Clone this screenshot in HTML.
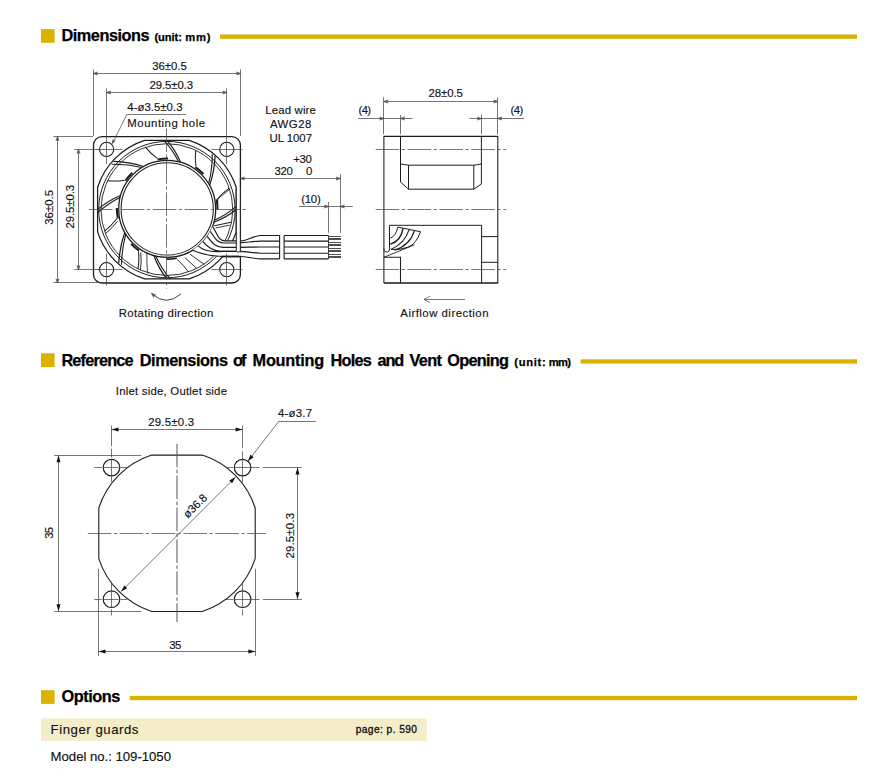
<!DOCTYPE html>
<html><head><meta charset="utf-8"><title>Dimensions</title>
<style>
html,body{margin:0;padding:0;background:#fff;}
body{width:877px;height:781px;overflow:hidden;font-family:"Liberation Sans",sans-serif;}
svg{display:block;font-family:"Liberation Sans",sans-serif;}
svg text{white-space:pre;}
</style></head><body>
<svg width="877" height="781" viewBox="0 0 877 781">
<rect width="877" height="781" fill="#fff"/>
<rect x="41" y="29.1" width="13.6" height="13.7" fill="#d9b300"/>
<text x="61.50" y="40.80" font-size="16.3" font-weight="bold" text-anchor="start" fill="#000" stroke="#000" stroke-width="0.25" textLength="88.1" lengthAdjust="spacing">Dimensions</text>
<text x="154.40" y="40.80" font-size="11.2" font-weight="bold" text-anchor="start" fill="#000" stroke="#000" stroke-width="0.25" textLength="27.5" lengthAdjust="spacing">(unit:</text>
<text x="185.20" y="40.80" font-size="11.2" font-weight="bold" text-anchor="start" fill="#000" stroke="#000" stroke-width="0.25" textLength="25.4" lengthAdjust="spacing">mm)</text>
<rect x="220.0" y="34.5" width="637.0" height="4.3" fill="#d9b300"/>
<rect x="41" y="353.3" width="13.6" height="13.7" fill="#d9b300"/>
<text x="61.40" y="365.60" font-size="16.3" font-weight="bold" text-anchor="start" fill="#000" stroke="#000" stroke-width="0.25" textLength="72.2" lengthAdjust="spacing">Reference</text>
<text x="139.80" y="365.60" font-size="16.3" font-weight="bold" text-anchor="start" fill="#000" stroke="#000" stroke-width="0.25" textLength="88.2" lengthAdjust="spacing">Dimensions</text>
<text x="232.90" y="365.60" font-size="16.3" font-weight="bold" text-anchor="start" fill="#000" stroke="#000" stroke-width="0.25" textLength="13.6" lengthAdjust="spacing">of</text>
<text x="252.60" y="365.60" font-size="16.3" font-weight="bold" text-anchor="start" fill="#000" stroke="#000" stroke-width="0.25" textLength="71.5" lengthAdjust="spacing">Mounting</text>
<text x="330.60" y="365.60" font-size="16.3" font-weight="bold" text-anchor="start" fill="#000" stroke="#000" stroke-width="0.25" textLength="41.1" lengthAdjust="spacing">Holes</text>
<text x="377.50" y="365.60" font-size="16.3" font-weight="bold" text-anchor="start" fill="#000" stroke="#000" stroke-width="0.25" textLength="26.7" lengthAdjust="spacing">and</text>
<text x="409.50" y="365.60" font-size="16.3" font-weight="bold" text-anchor="start" fill="#000" stroke="#000" stroke-width="0.25" textLength="32.5" lengthAdjust="spacing">Vent</text>
<text x="447.30" y="365.60" font-size="16.3" font-weight="bold" text-anchor="start" fill="#000" stroke="#000" stroke-width="0.25" textLength="61.6" lengthAdjust="spacing">Opening</text>
<text x="514.20" y="365.60" font-size="11.2" font-weight="bold" text-anchor="start" fill="#000" stroke="#000" stroke-width="0.25" textLength="31.6" lengthAdjust="spacing">(unit:</text>
<text x="548.70" y="365.60" font-size="11.2" font-weight="bold" text-anchor="start" fill="#000" stroke="#000" stroke-width="0.25" textLength="22.2" lengthAdjust="spacing">mm)</text>
<rect x="580.6" y="359.3" width="276.4" height="4.3" fill="#d9b300"/>
<rect x="41" y="690.2" width="13.6" height="13.7" fill="#d9b300"/>
<text x="61.50" y="702.20" font-size="16.3" font-weight="bold" text-anchor="start" fill="#000" stroke="#000" stroke-width="0.25" textLength="58.8" lengthAdjust="spacing">Options</text>
<rect x="129.8" y="695.9" width="727.2" height="4.3" fill="#d9b300"/>
<rect x="41" y="718.4" width="385.6" height="22.6" fill="#f5edc9"/>
<text x="50.60" y="733.90" font-size="13.2" font-weight="normal" text-anchor="start" fill="#111" stroke="#111" stroke-width="0.14" textLength="87.8" lengthAdjust="spacing">Finger guards</text>
<text x="355.7" y="732.9" font-size="10.2" fill="#111" stroke="#111" stroke-width="0.32" textLength="61.3" lengthAdjust="spacing">page: p. 590</text>
<text x="50.60" y="760.80" font-size="13.2" font-weight="normal" text-anchor="start" fill="#111" stroke="#111" stroke-width="0.14" textLength="120.4" lengthAdjust="spacing">Model no.: 109-1050</text>
<rect x="93.5" y="136.6" width="146.9" height="146.4" rx="8.5" ry="8.5" fill="none" stroke="#1c1c1c" stroke-width="1.3"/>
<circle cx="106.60" cy="149.40" r="7.10" stroke="#1c1c1c" stroke-width="1.1" fill="none"/>
<circle cx="106.60" cy="269.60" r="7.10" stroke="#1c1c1c" stroke-width="1.1" fill="none"/>
<circle cx="226.80" cy="149.40" r="7.10" stroke="#1c1c1c" stroke-width="1.1" fill="none"/>
<circle cx="226.80" cy="269.60" r="7.10" stroke="#1c1c1c" stroke-width="1.1" fill="none"/>
<path d="M236.20 187.30 A72.8 72.8 0 0 0 189.20 140.30 L144.60 140.30 A72.8 72.8 0 0 0 97.60 187.30 L97.60 231.90 A72.8 72.8 0 0 0 144.60 278.90 L189.20 278.90 A72.8 72.8 0 0 0 236.20 231.90 L236.20 187.30Z" stroke="#1c1c1c" stroke-width="1.25" fill="none" />
<circle cx="166.90" cy="209.60" r="68.20" stroke="#1c1c1c" stroke-width="1.0" fill="none"/>
<circle cx="166.90" cy="209.60" r="65.90" stroke="#1c1c1c" stroke-width="0.9" fill="none"/>
<circle cx="167.20" cy="208.90" r="48.50" stroke="#1c1c1c" stroke-width="1.3" fill="none"/>
<circle cx="167.20" cy="208.90" r="46.10" stroke="#1c1c1c" stroke-width="1.05" fill="none"/>
<path d="M236.20 209.60 Q226.09 217.85 213.82 222.27" stroke="#1c1c1c" stroke-width="1.25" fill="none" />
<path d="M236.13 206.46 Q226.31 215.07 214.34 220.30" stroke="#1c1c1c" stroke-width="1.1" fill="none" />
<path d="M215.08 156.09 Q214.51 171.14 209.62 185.39" stroke="#1c1c1c" stroke-width="1.25" fill="none" />
<path d="M212.28 154.35 Q212.42 169.24 208.60 183.63" stroke="#1c1c1c" stroke-width="1.1" fill="none" />
<path d="M229.30 188.11 Q222.66 192.73 217.66 199.09" stroke="#1c1c1c" stroke-width="1.05" fill="none" />
<path d="M216.58 199.30 A50.3 50.3 0 0 1 217.49 209.78" stroke="#1c1c1c" stroke-width="2.0" fill="none" />
<path d="M166.90 140.30 Q175.60 150.13 180.57 162.28" stroke="#1c1c1c" stroke-width="1.25" fill="none" />
<path d="M163.76 140.37 Q172.82 149.93 178.60 161.76" stroke="#1c1c1c" stroke-width="1.1" fill="none" />
<path d="M195.83 150.28 Q194.69 158.29 195.94 166.29" stroke="#1c1c1c" stroke-width="1.05" fill="none" />
<path d="M195.33 167.20 A50.3 50.3 0 0 1 203.38 173.96" stroke="#1c1c1c" stroke-width="2.0" fill="none" />
<path d="M113.39 161.42 Q128.90 161.78 143.69 166.48" stroke="#1c1c1c" stroke-width="1.25" fill="none" />
<path d="M111.65 164.22 Q127.01 163.87 141.93 167.50" stroke="#1c1c1c" stroke-width="1.1" fill="none" />
<path d="M145.41 147.20 Q150.58 153.69 157.39 158.44" stroke="#1c1c1c" stroke-width="1.05" fill="none" />
<path d="M157.60 159.52 A50.3 50.3 0 0 1 168.08 158.61" stroke="#1c1c1c" stroke-width="2.0" fill="none" />
<path d="M97.60 209.60 Q107.94 200.69 120.58 195.53" stroke="#1c1c1c" stroke-width="1.25" fill="none" />
<path d="M97.67 212.74 Q107.74 203.47 120.06 197.50" stroke="#1c1c1c" stroke-width="1.1" fill="none" />
<path d="M107.58 180.67 Q116.12 181.61 124.59 180.16" stroke="#1c1c1c" stroke-width="1.05" fill="none" />
<path d="M125.50 180.77 A50.3 50.3 0 0 1 132.26 172.72" stroke="#1c1c1c" stroke-width="2.0" fill="none" />
<path d="M118.72 263.11 Q119.59 247.33 124.78 232.41" stroke="#1c1c1c" stroke-width="1.25" fill="none" />
<path d="M121.52 264.85 Q121.68 249.23 125.80 234.17" stroke="#1c1c1c" stroke-width="1.1" fill="none" />
<path d="M104.50 231.09 Q111.47 225.74 116.74 218.71" stroke="#1c1c1c" stroke-width="1.05" fill="none" />
<path d="M117.82 218.50 A50.3 50.3 0 0 1 116.91 208.02" stroke="#1c1c1c" stroke-width="2.0" fill="none" />
<path d="M105.45 233.68 Q112.28 228.07 117.67 221.07" stroke="#1c1c1c" stroke-width="0.95" fill="none" />
<path d="M166.90 278.90 Q158.45 268.28 153.83 255.52" stroke="#1c1c1c" stroke-width="1.25" fill="none" />
<path d="M170.04 278.83 Q161.22 268.49 155.80 256.04" stroke="#1c1c1c" stroke-width="1.1" fill="none" />
<path d="M137.97 268.92 Q139.41 260.25 138.46 251.51" stroke="#1c1c1c" stroke-width="1.05" fill="none" />
<path d="M139.07 250.60 A50.3 50.3 0 0 1 131.02 243.84" stroke="#1c1c1c" stroke-width="2.0" fill="none" />
<path d="M140.48 270.08 Q141.63 261.32 140.78 252.52" stroke="#1c1c1c" stroke-width="0.95" fill="none" />
<path d="M230.26 188.77 Q223.00 195.15 217.75 198.52 L217.50 208.90" stroke="#1c1c1c" stroke-width="0.8" fill="none" />
<path d="M146.88 253.49 Q146.53 263.64 147.79 273.71" stroke="#1c1c1c" stroke-width="0.8" fill="none" />
<path d="M188.39 272.00 Q183.59 264.88 177.01 259.36" stroke="#1c1c1c" stroke-width="0.9" fill="none" />
<path d="M176.80 258.28 A50.3 50.3 0 0 1 166.32 259.19" stroke="#1c1c1c" stroke-width="1.7" fill="none" />
<path d="M184.8 257.6 L196.9 268.6" stroke="#1c1c1c" stroke-width="0.9" fill="none" />
<path d="M190 254.2 L204.4 264.5" stroke="#1c1c1c" stroke-width="0.9" fill="none" />
<path d="M214.2 225.8 L231.3 222.2" stroke="#1c1c1c" stroke-width="1.0" fill="none" />
<path d="M215.6 228.0 L229.6 225.1" stroke="#1c1c1c" stroke-width="0.85" fill="none" />
<path d="M212.48 226.28 C216.78 231.78 217.5 241.1 225.5 240.9 L240.4 240.9 L240.4 256.5 L222 256.5 C212 256.3 200.54 253.65 192.54 250.25 A48.5 48.5 0 0 0 212.48 226.28 Z" stroke="none" stroke-width="0" fill="#fff" />
<path d="M212.48 226.28 C216.82 231.74 217.50 241.10 225.50 240.90 L236.3 240.90" stroke="#1c1c1c" stroke-width="1.15" fill="none" />
<path d="M210.22 231.29 C214.56 236.75 216.30 243.20 224.30 243.00 L236.3 243.00" stroke="#1c1c1c" stroke-width="1.15" fill="none" />
<path d="M207.17 236.37 C211.51 241.83 215.10 247.50 223.10 247.30 L236.3 247.30" stroke="#1c1c1c" stroke-width="1.15" fill="none" />
<path d="M202.96 241.67 C207.30 247.13 213.90 251.50 221.90 251.30 L236.3 251.30" stroke="#1c1c1c" stroke-width="1.15" fill="none" />
<path d="M198.38 246.05 C203.38 250.65 212 252.2 222 251.4 L236.3 251.3" stroke="#1c1c1c" stroke-width="1.15" fill="none" />
<path d="M192.54 250.25 C200.54 253.65 212 256.3 222 256.5 L240.4 256.5" stroke="#1c1c1c" stroke-width="1.15" fill="none" />
<path d="M221.3 256.5 L239.7 256.5" stroke="#1c1c1c" stroke-width="1.9" fill="none" />
<path d="M240.4 240.90 C246.5 240.90 251 236.85 260.5 235.50 L279.6 235.50" stroke="#1c1c1c" stroke-width="1.15" fill="none" />
<path d="M284.1 235.50 L328.5 235.50" stroke="#1c1c1c" stroke-width="1.15" fill="none" />
<path d="M240.4 242.60 C246.5 242.60 251 241.47 260.5 241.10 L279.6 241.10" stroke="#1c1c1c" stroke-width="1.15" fill="none" />
<path d="M284.1 241.10 L328.5 241.10" stroke="#1c1c1c" stroke-width="1.15" fill="none" />
<path d="M240.4 247.30 C246.5 247.30 251 247.07 260.5 247.00 L279.6 247.00" stroke="#1c1c1c" stroke-width="1.15" fill="none" />
<path d="M284.1 247.00 L328.5 247.00" stroke="#1c1c1c" stroke-width="1.15" fill="none" />
<path d="M240.4 251.30 C246.5 251.30 251 252.72 260.5 253.20 L279.6 253.20" stroke="#1c1c1c" stroke-width="1.15" fill="none" />
<path d="M284.1 253.20 L328.5 253.20" stroke="#1c1c1c" stroke-width="1.15" fill="none" />
<path d="M240.4 256.50 C246.5 256.50 251 258.30 260.5 258.90 L279.6 258.90" stroke="#1c1c1c" stroke-width="1.15" fill="none" />
<path d="M284.1 258.90 L328.5 258.90" stroke="#1c1c1c" stroke-width="1.15" fill="none" />
<path d="M279.6 235.5 L279.6 258.9" stroke="#1c1c1c" stroke-width="1.1" fill="none" />
<path d="M284.1 235.5 L284.1 258.9" stroke="#1c1c1c" stroke-width="1.1" fill="none" />
<path d="M328.5 235.5 L328.5 258.9" stroke="#1c1c1c" stroke-width="0.8" fill="none" />
<line x1="328.50" y1="236.50" x2="341.00" y2="236.50" stroke="#222" stroke-width="0.8" />
<line x1="328.50" y1="238.50" x2="341.00" y2="238.50" stroke="#222" stroke-width="0.8" />
<line x1="328.50" y1="239.50" x2="341.00" y2="239.50" stroke="#222" stroke-width="0.8" />
<line x1="328.50" y1="242.50" x2="341.00" y2="242.50" stroke="#222" stroke-width="0.8" />
<line x1="328.50" y1="244.50" x2="341.00" y2="244.50" stroke="#222" stroke-width="0.8" />
<line x1="328.50" y1="245.50" x2="341.00" y2="245.50" stroke="#222" stroke-width="0.8" />
<line x1="328.50" y1="248.50" x2="341.00" y2="248.50" stroke="#222" stroke-width="0.8" />
<line x1="328.50" y1="250.50" x2="341.00" y2="250.50" stroke="#222" stroke-width="0.8" />
<line x1="328.50" y1="251.50" x2="341.00" y2="251.50" stroke="#222" stroke-width="0.8" />
<line x1="328.50" y1="254.50" x2="341.00" y2="254.50" stroke="#222" stroke-width="0.8" />
<line x1="328.50" y1="256.50" x2="341.00" y2="256.50" stroke="#222" stroke-width="0.8" />
<line x1="328.50" y1="257.50" x2="341.00" y2="257.50" stroke="#222" stroke-width="0.8" />
<path d="M236.3 187.5 L236.3 250.6 Q236.3 252.1 238.3 252.1 Q240.3 252.1 240.3 250.6 L240.3 187.5" stroke="#1c1c1c" stroke-width="1.0" fill="#fff" />
<rect x="239.6" y="252.6" width="1.7" height="3.0" fill="#fff"/>
<line x1="166.50" y1="128.50" x2="166.50" y2="288.60" stroke="#484848" stroke-width="0.75" stroke-dasharray="23.5 2.5 3.3 2.6" />
<line x1="89.00" y1="209.50" x2="246.00" y2="209.50" stroke="#484848" stroke-width="0.75" stroke-dasharray="23.5 2.5 3.3 2.6" />
<line x1="106.50" y1="141.00" x2="106.50" y2="164.00" stroke="#484848" stroke-width="0.75" />
<line x1="106.50" y1="253.60" x2="106.50" y2="285.30" stroke="#484848" stroke-width="0.75" />
<line x1="226.50" y1="141.00" x2="226.50" y2="164.00" stroke="#484848" stroke-width="0.75" />
<line x1="226.50" y1="253.60" x2="226.50" y2="285.30" stroke="#484848" stroke-width="0.75" />
<line x1="96.50" y1="149.50" x2="122.30" y2="149.50" stroke="#484848" stroke-width="0.75" />
<line x1="211.30" y1="149.50" x2="242.40" y2="149.50" stroke="#484848" stroke-width="0.75" />
<line x1="96.50" y1="269.50" x2="122.30" y2="269.50" stroke="#484848" stroke-width="0.75" />
<line x1="211.30" y1="269.50" x2="242.40" y2="269.50" stroke="#484848" stroke-width="0.75" />
<line x1="93.50" y1="69.40" x2="93.50" y2="136.00" stroke="#484848" stroke-width="0.75" />
<line x1="240.50" y1="69.40" x2="240.50" y2="136.00" stroke="#484848" stroke-width="0.75" />
<line x1="93.40" y1="73.50" x2="240.60" y2="73.50" stroke="#484848" stroke-width="0.75" />
<path d="M97.60 72.00 L93.40 73.50 L97.60 75.00" stroke="#484848" stroke-width="0.75" fill="#484848" fill-opacity="0.55" stroke-linejoin="miter"/>
<path d="M236.40 75.00 L240.60 73.50 L236.40 72.00" stroke="#484848" stroke-width="0.75" fill="#484848" fill-opacity="0.55" stroke-linejoin="miter"/>
<text x="169.50" y="70.00" font-size="11.4" font-weight="normal" text-anchor="middle" fill="#111" stroke="#111" stroke-width="0.14" textLength="34.7" lengthAdjust="spacing">36±0.5</text>
<line x1="106.50" y1="88.50" x2="106.50" y2="141.00" stroke="#484848" stroke-width="0.75" />
<line x1="226.50" y1="88.50" x2="226.50" y2="141.00" stroke="#484848" stroke-width="0.75" />
<line x1="106.60" y1="92.50" x2="226.80" y2="92.50" stroke="#484848" stroke-width="0.75" />
<path d="M110.80 91.00 L106.60 92.50 L110.80 94.00" stroke="#484848" stroke-width="0.75" fill="#484848" fill-opacity="0.55" stroke-linejoin="miter"/>
<path d="M222.60 94.00 L226.80 92.50 L222.60 91.00" stroke="#484848" stroke-width="0.75" fill="#484848" fill-opacity="0.55" stroke-linejoin="miter"/>
<text x="171.30" y="89.00" font-size="11.4" font-weight="normal" text-anchor="middle" fill="#111" stroke="#111" stroke-width="0.14" textLength="43.4" lengthAdjust="spacing">29.5±0.3</text>
<text x="127.30" y="111.40" font-size="11.4" font-weight="normal" text-anchor="start" fill="#111" stroke="#111" stroke-width="0.14" textLength="55.2" lengthAdjust="spacing">4-ø3.5±0.3</text>
<line x1="127.00" y1="114.50" x2="186.00" y2="114.50" stroke="#484848" stroke-width="0.75" />
<line x1="127.00" y1="114.20" x2="112.60" y2="143.00" stroke="#484848" stroke-width="0.75" />
<path d="M112.93 139.44 L112.30 143.60 L115.25 140.61" stroke="#484848" stroke-width="0.75" fill="#484848" fill-opacity="0.55" stroke-linejoin="miter"/>
<text x="127.30" y="127.20" font-size="11.4" font-weight="normal" text-anchor="start" fill="#111" stroke="#111" stroke-width="0.14" textLength="77.8" lengthAdjust="spacing">Mounting hole</text>
<line x1="53.40" y1="136.50" x2="93.00" y2="136.50" stroke="#484848" stroke-width="0.75" />
<line x1="53.40" y1="282.50" x2="100.00" y2="282.50" stroke="#484848" stroke-width="0.75" />
<line x1="57.50" y1="136.60" x2="57.50" y2="283.00" stroke="#484848" stroke-width="0.75" />
<path d="M59.00 140.80 L57.50 136.60 L56.00 140.80" stroke="#484848" stroke-width="0.75" fill="#484848" fill-opacity="0.55" stroke-linejoin="miter"/>
<path d="M56.00 278.80 L57.50 283.00 L59.00 278.80" stroke="#484848" stroke-width="0.75" fill="#484848" fill-opacity="0.55" stroke-linejoin="miter"/>
<line x1="74.40" y1="149.50" x2="99.00" y2="149.50" stroke="#484848" stroke-width="0.75" />
<line x1="74.40" y1="269.50" x2="99.00" y2="269.50" stroke="#484848" stroke-width="0.75" />
<line x1="78.50" y1="149.40" x2="78.50" y2="269.60" stroke="#484848" stroke-width="0.75" />
<path d="M80.00 153.60 L78.50 149.40 L77.00 153.60" stroke="#484848" stroke-width="0.75" fill="#484848" fill-opacity="0.55" stroke-linejoin="miter"/>
<path d="M77.00 265.40 L78.50 269.60 L80.00 265.40" stroke="#484848" stroke-width="0.75" fill="#484848" fill-opacity="0.55" stroke-linejoin="miter"/>
<text x="53.40" y="224.80" font-size="11.4" font-weight="normal" text-anchor="start" fill="#111" stroke="#111" stroke-width="0.14" textLength="34.8" lengthAdjust="spacing" transform="rotate(-90 53.40 224.80)">36±0.5</text>
<text x="74.20" y="228.40" font-size="11.4" font-weight="normal" text-anchor="start" fill="#111" stroke="#111" stroke-width="0.14" textLength="43.5" lengthAdjust="spacing" transform="rotate(-90 74.20 228.40)">29.5±0.3</text>
<text x="290.60" y="114.30" font-size="11.4" font-weight="normal" text-anchor="middle" fill="#111" stroke="#111" stroke-width="0.14" textLength="50.6" lengthAdjust="spacing">Lead wire</text>
<text x="290.60" y="128.40" font-size="11.4" font-weight="normal" text-anchor="middle" fill="#111" stroke="#111" stroke-width="0.14" textLength="41.4" lengthAdjust="spacing">AWG28</text>
<text x="290.80" y="141.90" font-size="11.4" font-weight="normal" text-anchor="middle" fill="#111" stroke="#111" stroke-width="0.14" textLength="42.4" lengthAdjust="spacing">UL 1007</text>
<text x="293.20" y="162.50" font-size="11.4" font-weight="normal" text-anchor="start" fill="#111" stroke="#111" stroke-width="0.14" textLength="18.7" lengthAdjust="spacing">+30</text>
<text x="274.40" y="174.50" font-size="11.4" font-weight="normal" text-anchor="start" fill="#111" stroke="#111" stroke-width="0.14" textLength="18.5" lengthAdjust="spacing">320</text>
<text x="306.00" y="174.50" font-size="11.4" font-weight="normal" text-anchor="start" fill="#111" stroke="#111" stroke-width="0.14">0</text>
<line x1="240.40" y1="178.50" x2="340.30" y2="178.50" stroke="#484848" stroke-width="0.75" />
<path d="M244.60 177.00 L240.40 178.50 L244.60 180.00" stroke="#484848" stroke-width="0.75" fill="#484848" fill-opacity="0.55" stroke-linejoin="miter"/>
<path d="M336.10 180.00 L340.30 178.50 L336.10 177.00" stroke="#484848" stroke-width="0.75" fill="#484848" fill-opacity="0.55" stroke-linejoin="miter"/>
<line x1="340.50" y1="174.00" x2="340.50" y2="233.00" stroke="#484848" stroke-width="0.75" />
<text x="301.20" y="203.30" font-size="11.4" font-weight="normal" text-anchor="start" fill="#111" stroke="#111" stroke-width="0.14" textLength="19.5" lengthAdjust="spacing">(10)</text>
<line x1="299.00" y1="206.50" x2="352.80" y2="206.50" stroke="#484848" stroke-width="0.75" />
<path d="M324.30 208.00 L328.50 206.50 L324.30 205.00" stroke="#484848" stroke-width="0.75" fill="#484848" fill-opacity="0.55" stroke-linejoin="miter"/>
<path d="M344.50 205.00 L340.30 206.50 L344.50 208.00" stroke="#484848" stroke-width="0.75" fill="#484848" fill-opacity="0.55" stroke-linejoin="miter"/>
<line x1="328.50" y1="202.00" x2="328.50" y2="232.70" stroke="#484848" stroke-width="0.75" />
<path d="M180.9 294.0 Q166.5 306.5 152.3 294.2" stroke="#2a2a2a" stroke-width="0.9" fill="none" />
<path d="M155.81 295.02 L151.40 293.20 L153.67 297.40" stroke="#484848" stroke-width="0.75" fill="#484848" fill-opacity="0.55" stroke-linejoin="miter"/>
<text x="118.80" y="316.80" font-size="11.4" font-weight="normal" text-anchor="start" fill="#111" stroke="#111" stroke-width="0.14" textLength="94.5" lengthAdjust="spacing">Rotating direction</text>
<path d="M383.9 283.0 L383.9 136.4 L497.8 136.4 L497.8 283.0 L383.9 283.0 M383.9 257.3 L400.5 257.3 L400.5 283.0" stroke="#1c1c1c" stroke-width="1.05" fill="none" />
<path d="M383.9 248.5 Q383.9 252.4 387.6 252.0 Q389.6 251.4 389.6 249.0 L389.4 225.3 L481.6 225.3 L481.6 283.0" stroke="#1c1c1c" stroke-width="1.0" fill="none" />
<path d="M383.9 136.4 L497.8 136.4" stroke="#1c1c1c" stroke-width="1.4" fill="none" />
<path d="M383.9 283.0 L497.8 283.0" stroke="#1c1c1c" stroke-width="1.15" fill="none" />
<path d="M400.5 136.4 L400.5 182.0 L408.5 189.2 L473.8 189.2 L481.4 184.0 L481.4 136.4" stroke="#1c1c1c" stroke-width="1.0" fill="none" />
<path d="M400.5 164.0 Q405 164.6 408.5 165.2 L473.8 165.2 Q478 164.6 481.4 164.0" stroke="#1c1c1c" stroke-width="1.0" fill="none" />
<path d="M408.5 165.2 L408.5 189.2 M473.8 165.2 L473.8 189.2" stroke="#1c1c1c" stroke-width="1.0" fill="none" />
<path d="M481.6 236.6 L497.8 236.6 M481.6 262.3 L497.8 262.3" stroke="#1c1c1c" stroke-width="1.0" fill="none" />
<path d="M383.9 257.3 L414.5 244.8" stroke="#1c1c1c" stroke-width="0.9" fill="none" />
<path d="M390.3 238.2 Q395.6 236.4 397.7 227.4" stroke="#1c1c1c" stroke-width="1.0" fill="none" />
<path d="M390.3 244.2 Q400.6 241.4 403.1 228.5" stroke="#1c1c1c" stroke-width="1.35" fill="none" />
<path d="M390.8 249.4 Q404.6 243.8 409.1 229.7" stroke="#1c1c1c" stroke-width="1.1" fill="none" />
<path d="M394.5 250.3 Q410.2 245.0 414.5 230.5" stroke="#1c1c1c" stroke-width="1.1" fill="none" />
<path d="M391.1 249.4 Q400 250.2 408 247.2 Q416.6 243.6 420.5 231.7" stroke="#1c1c1c" stroke-width="1.0" fill="none" />
<path d="M397.7 227.1 L420.5 231.7" stroke="#1c1c1c" stroke-width="1.0" fill="none" />
<line x1="375.70" y1="149.50" x2="506.40" y2="149.50" stroke="#484848" stroke-width="0.75" stroke-dasharray="23.5 2.5 3.3 2.6" />
<line x1="375.70" y1="209.50" x2="506.40" y2="209.50" stroke="#484848" stroke-width="0.75" stroke-dasharray="23.5 2.5 3.3 2.6" />
<line x1="375.70" y1="269.50" x2="506.40" y2="269.50" stroke="#484848" stroke-width="0.75" stroke-dasharray="23.5 2.5 3.3 2.6" />
<line x1="383.50" y1="97.40" x2="383.50" y2="134.40" stroke="#484848" stroke-width="0.75" />
<line x1="497.50" y1="97.40" x2="497.50" y2="134.40" stroke="#484848" stroke-width="0.75" />
<line x1="383.90" y1="101.50" x2="497.80" y2="101.50" stroke="#484848" stroke-width="0.75" />
<path d="M388.10 100.00 L383.90 101.50 L388.10 103.00" stroke="#484848" stroke-width="0.75" fill="#484848" fill-opacity="0.55" stroke-linejoin="miter"/>
<path d="M493.60 103.00 L497.80 101.50 L493.60 100.00" stroke="#484848" stroke-width="0.75" fill="#484848" fill-opacity="0.55" stroke-linejoin="miter"/>
<text x="445.70" y="96.80" font-size="11.4" font-weight="normal" text-anchor="middle" fill="#111" stroke="#111" stroke-width="0.14" textLength="34.3" lengthAdjust="spacing">28±0.5</text>
<text x="358.60" y="113.90" font-size="11.4" font-weight="normal" text-anchor="start" fill="#111" stroke="#111" stroke-width="0.14" textLength="12.5" lengthAdjust="spacing">(4)</text>
<text x="510.60" y="113.90" font-size="11.4" font-weight="normal" text-anchor="start" fill="#111" stroke="#111" stroke-width="0.14" textLength="12.8" lengthAdjust="spacing">(4)</text>
<line x1="358.20" y1="118.50" x2="412.60" y2="118.50" stroke="#484848" stroke-width="0.75" />
<path d="M379.70 120.00 L383.90 118.50 L379.70 117.00" stroke="#484848" stroke-width="0.75" fill="#484848" fill-opacity="0.55" stroke-linejoin="miter"/>
<path d="M404.70 117.00 L400.50 118.50 L404.70 120.00" stroke="#484848" stroke-width="0.75" fill="#484848" fill-opacity="0.55" stroke-linejoin="miter"/>
<line x1="400.50" y1="115.00" x2="400.50" y2="134.40" stroke="#484848" stroke-width="0.75" />
<line x1="469.50" y1="118.50" x2="524.00" y2="118.50" stroke="#484848" stroke-width="0.75" />
<path d="M477.20 120.00 L481.40 118.50 L477.20 117.00" stroke="#484848" stroke-width="0.75" fill="#484848" fill-opacity="0.55" stroke-linejoin="miter"/>
<path d="M502.00 117.00 L497.80 118.50 L502.00 120.00" stroke="#484848" stroke-width="0.75" fill="#484848" fill-opacity="0.55" stroke-linejoin="miter"/>
<line x1="481.50" y1="114.50" x2="481.50" y2="134.40" stroke="#484848" stroke-width="0.75" />
<line x1="424.00" y1="299.50" x2="465.00" y2="299.50" stroke="#484848" stroke-width="0.75" />
<path d="M430 296.2 L424 299.4 L430 302.6" stroke="#484848" stroke-width="0.75" fill="none" />
<text x="400.30" y="316.60" font-size="11.4" font-weight="normal" text-anchor="start" fill="#111" stroke="#111" stroke-width="0.14" textLength="88.2" lengthAdjust="spacing">Airflow direction</text>
<text x="115.80" y="395.20" font-size="11.4" font-weight="normal" text-anchor="start" fill="#111" stroke="#111" stroke-width="0.14" textLength="111.2" lengthAdjust="spacing">Inlet side, Outlet side</text>
<path d="M255.20 507.97 A82.2 82.2 0 0 0 202.33 455.10 L151.67 455.10 A82.2 82.2 0 0 0 98.80 507.97 L98.80 558.63 A82.2 82.2 0 0 0 151.67 611.50 L202.33 611.50 A82.2 82.2 0 0 0 255.20 558.63 L255.20 507.97Z" stroke="#1c1c1c" stroke-width="1.1" fill="none" />
<circle cx="111.50" cy="467.60" r="8.30" stroke="#1c1c1c" stroke-width="1.15" fill="none"/>
<circle cx="111.50" cy="599.20" r="8.30" stroke="#1c1c1c" stroke-width="1.15" fill="none"/>
<circle cx="242.60" cy="467.60" r="8.30" stroke="#1c1c1c" stroke-width="1.15" fill="none"/>
<circle cx="242.60" cy="599.20" r="8.30" stroke="#1c1c1c" stroke-width="1.15" fill="none"/>
<line x1="94.20" y1="467.50" x2="101.80" y2="467.50" stroke="#484848" stroke-width="0.75" />
<line x1="103.50" y1="467.50" x2="118.50" y2="467.50" stroke="#484848" stroke-width="0.75" />
<line x1="120.50" y1="467.50" x2="127.00" y2="467.50" stroke="#484848" stroke-width="0.75" />
<line x1="225.80" y1="467.50" x2="233.20" y2="467.50" stroke="#484848" stroke-width="0.75" />
<line x1="235.00" y1="467.50" x2="259.50" y2="467.50" stroke="#484848" stroke-width="0.75" />
<line x1="262.90" y1="467.50" x2="301.90" y2="467.50" stroke="#484848" stroke-width="0.75" />
<line x1="94.20" y1="599.50" x2="101.80" y2="599.50" stroke="#484848" stroke-width="0.75" />
<line x1="103.50" y1="599.50" x2="118.50" y2="599.50" stroke="#484848" stroke-width="0.75" />
<line x1="120.50" y1="599.50" x2="127.00" y2="599.50" stroke="#484848" stroke-width="0.75" />
<line x1="225.80" y1="599.50" x2="233.20" y2="599.50" stroke="#484848" stroke-width="0.75" />
<line x1="235.00" y1="599.50" x2="259.50" y2="599.50" stroke="#484848" stroke-width="0.75" />
<line x1="262.90" y1="599.50" x2="301.90" y2="599.50" stroke="#484848" stroke-width="0.75" />
<line x1="111.50" y1="425.50" x2="111.50" y2="446.40" stroke="#484848" stroke-width="0.75" />
<line x1="111.50" y1="448.60" x2="111.50" y2="457.30" stroke="#484848" stroke-width="0.75" />
<line x1="111.50" y1="460.00" x2="111.50" y2="482.00" stroke="#484848" stroke-width="0.75" />
<line x1="242.50" y1="425.50" x2="242.50" y2="448.00" stroke="#484848" stroke-width="0.75" />
<line x1="242.50" y1="451.40" x2="242.50" y2="482.20" stroke="#484848" stroke-width="0.75" />
<line x1="111.50" y1="583.00" x2="111.50" y2="607.50" stroke="#484848" stroke-width="0.75" />
<line x1="111.50" y1="609.40" x2="111.50" y2="615.50" stroke="#484848" stroke-width="0.75" />
<line x1="242.50" y1="583.00" x2="242.50" y2="607.50" stroke="#484848" stroke-width="0.75" />
<line x1="242.50" y1="609.40" x2="242.50" y2="615.50" stroke="#484848" stroke-width="0.75" />
<line x1="177.00" y1="443.80" x2="177.00" y2="622.00" stroke="#555" stroke-width="1.0" stroke-dasharray="23.5 2.5 3.3 2.6" />
<line x1="87.80" y1="533.50" x2="266.00" y2="533.50" stroke="#484848" stroke-width="0.75" stroke-dasharray="23.5 2.5 3.3 2.6" />
<line x1="111.50" y1="429.50" x2="242.60" y2="429.50" stroke="#484848" stroke-width="0.75" />
<path d="M118.50 427.50 L111.50 429.50 L118.50 431.50 Z" fill="#111" stroke="none"/>
<path d="M235.60 431.50 L242.60 429.50 L235.60 427.50 Z" fill="#111" stroke="none"/>
<text x="171.20" y="426.10" font-size="11.4" font-weight="normal" text-anchor="middle" fill="#111" stroke="#111" stroke-width="0.14" textLength="46.0" lengthAdjust="spacing">29.5±0.3</text>
<line x1="54.20" y1="455.50" x2="141.30" y2="455.50" stroke="#484848" stroke-width="0.75" />
<line x1="54.20" y1="611.50" x2="141.30" y2="611.50" stroke="#484848" stroke-width="0.75" />
<line x1="58.50" y1="455.20" x2="58.50" y2="611.30" stroke="#484848" stroke-width="0.75" />
<path d="M60.50 462.20 L58.50 455.20 L56.50 462.20 Z" fill="#111" stroke="none"/>
<path d="M56.50 604.30 L58.50 611.30 L60.50 604.30 Z" fill="#111" stroke="none"/>
<text x="53.20" y="538.70" font-size="11.4" font-weight="normal" text-anchor="start" fill="#111" stroke="#111" stroke-width="0.14" textLength="11.8" lengthAdjust="spacing" transform="rotate(-90 53.20 538.70)">35</text>
<line x1="98.50" y1="568.70" x2="98.50" y2="655.90" stroke="#484848" stroke-width="0.75" />
<line x1="255.50" y1="568.70" x2="255.50" y2="655.90" stroke="#484848" stroke-width="0.75" />
<line x1="98.50" y1="651.50" x2="255.30" y2="651.50" stroke="#484848" stroke-width="0.75" />
<path d="M105.50 649.50 L98.50 651.50 L105.50 653.50 Z" fill="#111" stroke="none"/>
<path d="M248.30 653.50 L255.30 651.50 L248.30 649.50 Z" fill="#111" stroke="none"/>
<text x="175.30" y="648.60" font-size="11.4" font-weight="normal" text-anchor="middle" fill="#111" stroke="#111" stroke-width="0.14" textLength="12.2" lengthAdjust="spacing">35</text>
<line x1="297.50" y1="467.60" x2="297.50" y2="599.20" stroke="#484848" stroke-width="0.75" />
<path d="M299.50 474.60 L297.50 467.60 L295.50 474.60 Z" fill="#111" stroke="none"/>
<path d="M295.50 592.20 L297.50 599.20 L299.50 592.20 Z" fill="#111" stroke="none"/>
<text x="293.80" y="558.60" font-size="11.4" font-weight="normal" text-anchor="start" fill="#111" stroke="#111" stroke-width="0.14" textLength="45.6" lengthAdjust="spacing" transform="rotate(-90 293.80 558.60)">29.5±0.3</text>
<line x1="121.00" y1="591.60" x2="235.50" y2="477.10" stroke="#484848" stroke-width="0.75" />
<path d="M232.11 483.32 L235.50 477.10 L229.28 480.49 Z" fill="#111" stroke="none"/>
<path d="M124.39 585.38 L121.00 591.60 L127.22 588.21 Z" fill="#111" stroke="none"/>
<g transform="translate(179.1 533.5) rotate(-45)"><text x="16.6" y="-4.4" font-size="11.4" fill="#111" stroke="#111" stroke-width="0.14" textLength="28.5" lengthAdjust="spacing">ø36.8</text></g>
<text x="278.00" y="417.30" font-size="11.4" font-weight="normal" text-anchor="start" fill="#111" stroke="#111" stroke-width="0.14" textLength="34.0" lengthAdjust="spacing">4-ø3.7</text>
<line x1="278.60" y1="421.50" x2="316.00" y2="421.50" stroke="#484848" stroke-width="0.75" />
<line x1="278.60" y1="421.50" x2="248.40" y2="460.60" stroke="#484848" stroke-width="0.75" />
<path d="M250.48 454.70 L247.90 461.30 L253.64 457.14 Z" fill="#111" stroke="none"/>
</svg>
</body></html>
